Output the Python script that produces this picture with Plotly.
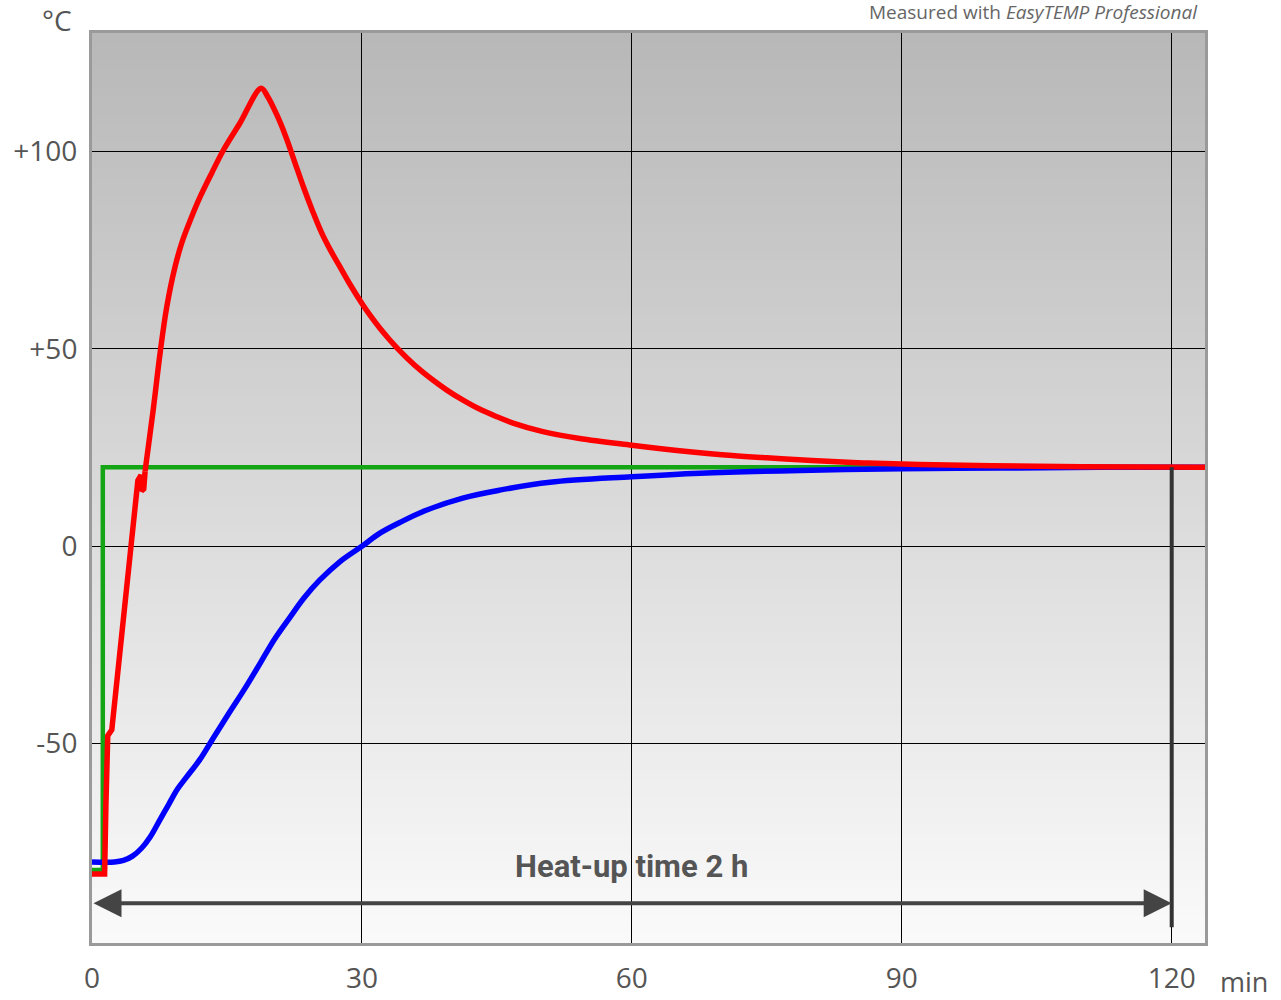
import plotly.graph_objects as go

# ---- data ----
red_rise_t = [0, 1.4, 1.55, 1.75, 2.2, 3.1, 4.2, 5.1, 5.45, 5.5, 5.75, 5.9]
red_rise_y = [-83, -83, -65, -48, -46.5, -26, -1, 16.7, 18, 14, 14.5, 19]

red_t = [5.9, 6.8, 7.6, 8.3, 9.2, 10, 11, 12, 13.3, 14.6, 16.4, 18.8, 19.5, 20.5, 21.5, 22.5, 23.5,
         24.5, 25.5, 26.5, 27.5, 28.5, 30, 31, 32, 33, 34, 35, 36.5, 38, 39.4, 41, 43, 45, 46.8, 50,
         54.2, 60, 65.3, 70, 75, 80, 85.7, 92, 100, 110, 123.7]
red_y = [19, 34.5, 49.5, 60.5, 70.5, 77, 83, 88.4, 94.5, 100.3, 107, 116, 114, 109.5, 104, 97.5, 91,
         85, 79.5, 75, 71, 67, 61.5, 58.2, 55.2, 52.5, 50, 47.7, 44.6, 41.9, 39.6, 37.3, 34.8, 32.8,
         31.2, 29.1, 27.3, 25.6, 24.2, 23.2, 22.4, 21.7, 21.1, 20.7, 20.4, 20.15, 20]

blue_t = [0, 2.5, 3.5, 4.5, 5.5, 6.5, 7.5, 8.5, 9.5, 10.5, 12, 13.5, 15.3, 17, 18.7, 20.3, 22, 23.6,
          25.3, 27.5, 30, 32, 34.2, 37, 41.2, 45.3, 50.9, 60, 67.6, 78.7, 90, 100.9, 112, 123.7]
blue_y = [-80, -80, -79.6, -78.5, -76.5, -73.5, -69.5, -65.5, -61.5, -58.5, -54, -48.5, -42, -36,
          -29.6, -23.5, -18, -13, -8.6, -4, 0, 3.3, 6, 9, 12.2, 14.2, 16.2, 17.6, 18.5, 19.2, 19.6,
          19.8, 20, 20]

green_t = [0, 1.2, 1.2, 123.7]
green_y = [-82, -82, 20, 20]

x_ticks = [0, 30, 60, 90, 120]
x_labels = ["0", "30", "60", "90", "120"]
y_ticks = [-50, 0, 50, 100]
y_labels = ["-50", "0", "+50", "+100"]

heatup_start, heatup_end, heatup_y = 0, 120, -90.4
marker_top, marker_bottom = 20, -96.5
label_text = "Heat-up time 2 h"

fig = go.Figure()

# background vertical gradient (styling)
n = 100
shapes = []
for i in range(n):
    f = i / (n - 1)
    c = int(round(250 - (250 - 184) * f))
    shapes.append(dict(type="rect", xref="paper", yref="paper", x0=0, x1=1,
                       y0=i / n, y1=(i + 1) / n + 0.002, line=dict(width=0),
                       fillcolor=f"rgb({c},{c},{c})", layer="below"))

fig.add_trace(go.Scatter(x=green_t, y=green_y, mode="lines",
                         line=dict(color="#13a513", width=4.5), hoverinfo="skip"))
fig.add_trace(go.Scatter(x=blue_t, y=blue_y, mode="lines",
                         line=dict(color="#0000ff", width=5.5, shape="spline", smoothing=1), hoverinfo="skip"))
fig.add_trace(go.Scatter(x=red_rise_t, y=red_rise_y, mode="lines",
                         line=dict(color="#ff0000", width=5.5), hoverinfo="skip"))
fig.add_trace(go.Scatter(x=red_t, y=red_y, mode="lines",
                         line=dict(color="#ff0000", width=5.5, shape="spline", smoothing=1), hoverinfo="skip"))

shapes.append(dict(type="line", xref="x", yref="y", x0=heatup_end, x1=heatup_end,
                   y0=marker_top, y1=marker_bottom, line=dict(color="#333333", width=4)))

fig.update_layout(
    width=1281, height=1000,
    margin=dict(l=92, r=76, t=33, b=57),
    paper_bgcolor="white", plot_bgcolor="rgba(0,0,0,0)",
    showlegend=False,
    shapes=shapes,
    font=dict(family="Open Sans", color="#555555", size=28),
    xaxis=dict(range=[0, 123.7], tickvals=x_ticks, ticktext=x_labels, automargin=False,
               showgrid=True, gridcolor="#000000", gridwidth=1, zeroline=False,
               showline=True, linecolor="#9a9a9a", linewidth=3, mirror=True,
               ticks="", ticklabelstandoff=8, tickfont=dict(size=28, color="#555555")),
    yaxis=dict(range=[-100.5, 130], tickvals=y_ticks, ticktext=y_labels, automargin=False,
               showgrid=True, gridcolor="#000000", gridwidth=1, zeroline=False,
               showline=True, linecolor="#9a9a9a", linewidth=3, mirror=True,
               ticks="", ticklabelstandoff=6, tickfont=dict(size=28, color="#555555")),
    annotations=[
        dict(x=heatup_end, y=heatup_y, ax=heatup_start, ay=heatup_y, xref="x", yref="y",
             axref="x", ayref="y", text="", showarrow=True, arrowhead=2, arrowside="end+start",
             arrowsize=1.4, arrowwidth=4, arrowcolor="#444444"),
        dict(x=60, y=-81, xref="x", yref="y", text="<b>" + label_text + "</b>", showarrow=False,
             font=dict(family="Roboto", size=31, color="#555555")),
        dict(x=-0.0314, y=1.0143, xref="paper", yref="paper", xanchor="center", yanchor="middle",
             text="°C", showarrow=False, font=dict(size=28, color="#555555")),
        dict(x=1.0350, y=-0.0428, xref="paper", yref="paper", xanchor="center", yanchor="middle",
             text="min", showarrow=False, font=dict(size=27, color="#555555")),
        dict(x=0.9955, y=1.0231, xref="paper", yref="paper", xanchor="right", yanchor="middle",
             text="Measured with <i>EasyTEMP Professional</i>", showarrow=False,
             font=dict(size=19, color="#666666")),
    ],
)

fig.write_html("out.html", config={"displayModeBar": False},
               post_script="document.body.style.margin='0';")
